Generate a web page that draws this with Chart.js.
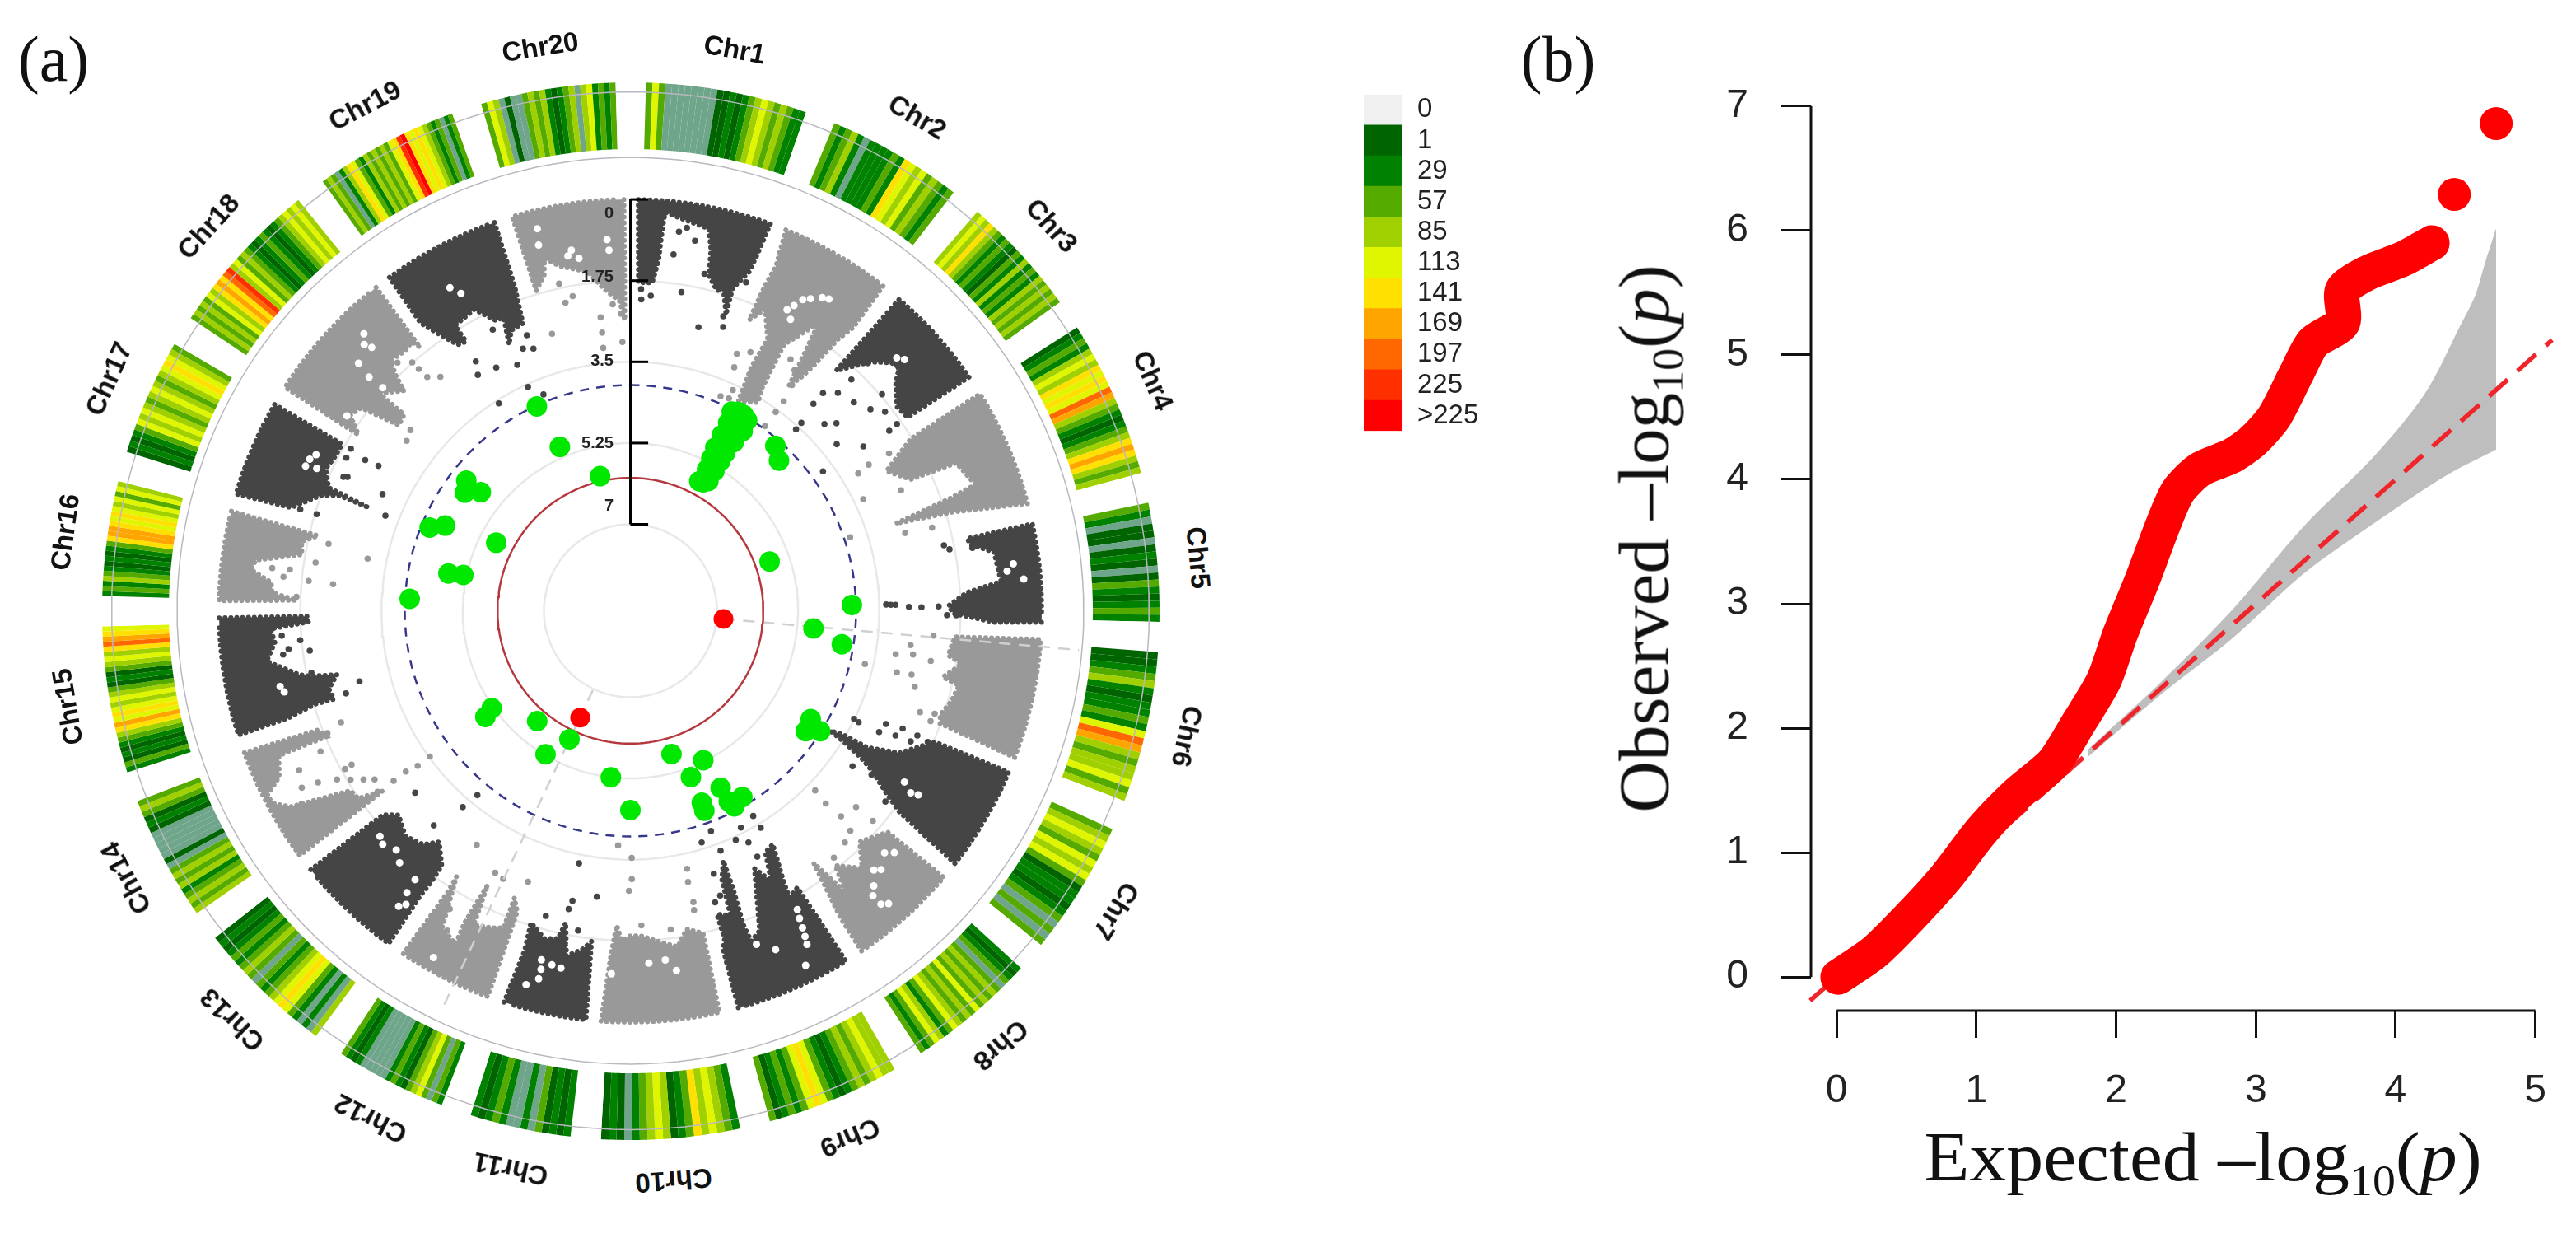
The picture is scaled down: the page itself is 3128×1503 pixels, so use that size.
<!DOCTYPE html>
<html>
<head>
<meta charset="utf-8">
<title>Circular Manhattan and QQ plot</title>
<script src="https://cdn.jsdelivr.net/npm/chart.js@4"></script>
<style>
  html, body { margin: 0; background: #fff; }
  #page { position: relative; width: 3128px; height: 1503px; overflow: hidden; background: #fff; }
  canvas { position: absolute; }
  .txt { position: absolute; white-space: nowrap; line-height: 1; }
  .chr { font: bold 33px "Liberation Sans", sans-serif; color: #111; }
  .tick { font: bold 20px "Liberation Sans", sans-serif; color: #222; }
  .serif { font-family: "Liberation Serif", serif; color: #111; }
  .serif sub { font-size: 62%; line-height: 0; }
</style>
</head>
<body>
<div id="page">
  <canvas id="ring" width="1284" height="1284" style="left:123.5px;top:99.5px"></canvas>
  <canvas id="manhattan" width="1321" height="1321" style="left:105px;top:81px"></canvas>
  <canvas id="legend" width="190" height="468" style="left:1656px;top:85px"></canvas>
  <canvas id="qq" width="1178" height="1400" style="left:1950px;top:60px"></canvas>
</div>
<script>
// ---- data ----
const chrNames = ['Chr1','Chr2','Chr3','Chr4','Chr5','Chr6','Chr7','Chr8','Chr9','Chr10','Chr11','Chr12','Chr13','Chr14','Chr15','Chr16','Chr17','Chr18','Chr19','Chr20'];
const chrSpan = [21,18.3,16.6,20.6,16.3,19.9,18.1,17.6,18,18.5,14.4,15.6,18.6,17.1,19.4,15.9,16.1,20.7,19.2,18.1];

const legendLabels = ['0','1','29','57','85','113','141','169','197','225','>225'];
const legendBins = [0,1,29,57,85,113,141,169,197,225,226];
const legendColors = ['#f0f0f0','#006400','#008200','#55aa00','#a0d000','#e0f500','#ffe000','#ffa500','#ff6800','#ff3000','#ff0000'];

// SNP density bands, clockwise. 0.5 = mostly empty windows (the grey-green stretches)
const chr1Bands = [57,113,57,.5,.5,.5,.5,.5,.5,.5,.5,1,1,29,1,29,57,85,113,85,57,85,57,29,29];
const chr2Bands = [57,29,57,85,29,.5,29,29,29,29,57,29,141,113,85,113,57,85,57,29,57];
const chr3Bands = [85,113,85,141,85,57,29,57,29,1,57,29,85,29,57,29,85,57,85,57,85,57];
const chr4Bands = [1,29,57,29,85,113,85,141,113,141,113,197,169,85,57,29,1,29,57,85,141,169,141,85,57,85];
const chr5Bands = [57,29,.5,1,1,.5,1,29,1,.5,1,57,29,1,29,57,29];
const chr6Bands = [1,1,29,57,85,29,1,29,29,57,29,113,197,169,85,57,85,85,113,57,85];
const chr7Bands = [57,85,113,85,57,113,85,113,57,1,29,29,1,29,57,.5,57,.5,57];
const chr8Bands = [29,1,29,57,.5,57,85,57,85,57,113,57,85,57,85,113,57,29,85,113,57,29,57];
const chr9Bands = [85,85,113,85,57,85,57,29,1,29,57,113,141,113,57,29,57,29,1,57];
const chr10Bands = [29,57,85,113,85,141,57,29,1,85,113,85,57,29,.5,1,29,1];
const chr11Bands = [29,1,29,1,57,.5,29,.5,.5,29,57,29,1,29];
const chr12Bands = [29,57,.5,57,113,85,57,1,29,57,29,.5,.5,.5,.5,.5,29,1,29,57];
const chr13Bands = [85,.5,29,.5,29,57,113,141,113,85,57,29,57,.5,57,85,57,29,57,29,1,29,1];
const chr14Bands = [85,57,85,57,29,85,57,85,57,.5,1,.5,.5,.5,.5,.5,1,29,1,57,85,57];
const chr15Bands = [29,57,1,29,1,29,57,85,141,169,113,141,113,85,113,85,57,1,29,1,57,85,113,85,141,197,169,141,113];
const chr16Bands = [29,57,29,85,57,29,1,29,1,29,57,141,169,169,141,113,141,113,85,113,57,113,85];
const chr17Bands = [1,29,1,29,57,113,85,113,85,57,85,113,85,57,85,113,141,113,85,57];
const chr18Bands = [57,85,57,85,57,113,85,141,169,141,197,225,85,113,57,85,57,29,1,29,57,29,1,29,57,85,113,85,113,85];
const chr19Bands = [57,85,57,.5,29,85,141,113,57,29,85,57,85,57,85,57,113,141,225,226,141,113,141,113,85,57,29,57,.5,29,57];
const chr20Bands = [57,113,85,.5,1,.5,.5,57,85,57,85,29,1,29,57,85,.5,85,113,29,57,29,57];

// outline of the dense part of each chromosome: [angle in degrees, -log10(p)]
const chr1Mass = [[19.9,0],[19.6,.74],[19.3,1.13],[17.6,1.57],[17.9,2.16],[16.1,1.64],[15.1,1.72],[13.1,1.43],[12.6,.9],[11.6,.46],[8.3,.37],[5,.25],[4.8,.6],[4.6,1.3],[3.8,1.78],[1.4,1.79],[1.1,0]];
const chr2Mass = [[37.9,0],[38.2,1.1],[37.4,1.5],[36.8,2.28],[36.2,2.62],[35.2,2.95],[34.6,2.55],[33.2,1.45],[31.3,1.95],[30,2.24],[30.6,3.28],[31.5,3.6],[27.2,3.78],[26.4,2.98],[26.8,2.3],[24.1,1.75],[22.2,2.1],[22.5,1.27],[22.9,.8],[22.2,0]];
const chr3Mass = [[55.4,0],[55.1,1.58],[52.6,1.63],[49.6,1.36],[48,1.1],[46.5,1.1],[44.5,1.35],[43.8,1.45],[40.6,2.05],[40.8,0]];
const chr4Mass = [[74.9,0],[73,1.58],[71.8,2.84],[70.6,1.54],[69.9,.95],[65.6,1.15],[64.9,2.19],[61.4,2.58],[58.5,1.78],[58.2,0]];
const chr5Mass = [[91.6,0],[91.8,1.02],[90.5,1.9],[89.1,2.01],[86.9,1.6],[85.5,.85],[80.8,.93],[79,1.4],[77.9,1.44],[77.8,0]];
const chr6Mass = [[110.9,0],[110,1.76],[108.6,1.82],[105.8,1.68],[102.8,1.6],[102,1.98],[99.1,1.63],[98,1.95],[94.6,1.85],[94,0]];
const chr7Mass = [[127.9,0],[126.8,1.62],[125.5,2.09],[123.6,2.59],[122.5,2.97],[121.5,3.5],[121,3.84],[120.2,3.57],[120,2.97],[117.8,2.3],[114.3,1.86],[113.3,1.7],[113.1,0]];
const chr8Mass = [[145.8,0],[145.6,.85],[144,2.14],[142.6,1.21],[141.2,1.82],[138,1.4],[135.2,1.85],[130.7,1.55],[130.4,0]];
const chr9Mass = [[164.8,0],[164.7,1.31],[164,1.51],[164.1,2.06],[161.8,1.96],[161.2,2.75],[159.6,3.12],[159.7,2.51],[160.2,1.67],[159.9,1.28],[158,1.43],[156.4,2.04],[154.3,2.7],[152.5,2.3],[150.8,2.9],[148.6,2.97],[150.5,2.15],[151,1.79],[148.9,1.9],[148.4,0]];
const chr10Mass = [[184.1,0],[183.2,1.5],[182.5,2.08],[181.5,1.75],[180,1.86],[178,1.85],[175.3,1.72],[172,1.55],[170,1.9],[167.3,1.74],[167.5,0]];
const chr11Mass = [[197.9,0],[197.3,1.2],[197.7,1.81],[194.7,1.56],[192.5,1.63],[191.7,2],[190.5,1.3],[188.1,1.49],[186.7,1.69],[186.2,0]];
const chr12Mass = [[213.5,0],[213,1.62],[213.2,2.02],[210.7,.92],[207.7,.75],[208,1.25],[207.5,2.2],[206.5,1.3],[203.8,1.4],[201.8,1.5],[202,2.19],[200.6,1.94],[200.3,0]];
const chr13Mass = [[231,0],[230.5,1.95],[228.6,2.21],[225,2],[221.6,2.13],[219.6,2.4],[216.5,2.03],[216.3,1.61],[216.4,1.24],[216,0]];
const chr14Mass = [[249.8,0],[249.1,1.66],[247.5,1.77],[247.6,1.14],[247.6,.67],[244.7,.49],[243,.07],[241.5,.14],[240,.42],[237.3,1.69],[235.4,1.74],[234,2.27],[233.5,0]];
const chr15Mass = [[269,0],[269,1.9],[268,1.92],[267.1,1.1],[264.9,1.17],[262.1,.95],[259.1,1.59],[258.5,1.8],[257.7,2.39],[255.5,2.15],[253.4,2.2],[253.5,1.78],[252.6,1.14],[252.4,0]];
const chr16Mass = [[284,0],[283.5,1.94],[281.9,1.62],[279.7,1.68],[277.7,.72],[276.2,.63],[274.5,1.1],[272.9,1.13],[271.8,1.66],[271.4,0]];
const chr17Mass = [[300.1,0],[300,1.69],[297.3,1.68],[295,1.62],[292.2,1.84],[291.5,2.81],[291.6,2.12],[290.4,1.74],[286.9,1.22],[286.5,0]];
const chr18Mass = [[321.8,0],[321.4,1.6],[320.9,1.4],[319,1.45],[316.2,1.4],[315,1.73],[314.2,2.06],[310.9,1.71],[310.9,2.41],[308.7,2.47],[307,1.6],[305,1.5],[302.9,1.88],[302.9,0]];
const chr19Mass = [[340.7,0],[340.4,1.42],[339.5,2.25],[337,2.3],[335.5,2.56],[336.6,1.98],[335.1,1.97],[332.6,1.55],[328.4,1.65],[328.6,2.07],[327,2.03],[324.9,1.5],[323.9,1.19],[324.1,0]];
const chr20Mass = [[359.1,0],[358.9,2.6],[358,2.19],[355.2,1.89],[352.8,1.5],[348.5,1.29],[346.3,1.05],[345.6,1.39],[343.6,1.68],[343.3,0]];

// empty pockets inside the dense parts
const massHoles = [[29,1.2],[30,1.1],[31.5,.95],[32.5,.9],[27.5,1.55],[28.2,1.4],[28.8,1.7],[47.5,1.2],[46.5,.95],[47.5,.85],[85.4,.36],[84,.7],[83,.55],[123,1.66],[122,1.9],[122.6,1.5],[138.6,.45],[139.5,.55],[132.5,1.15],[133.6,1.3],[139.6,.8],[138.5,.95],[135.9,1.1],[136.8,1.2],[151.5,1.09],[151.2,1.3],[150.8,1.49],[152.1,.73],[151.8,.9],[156.8,.92],[159.3,1.18],[153.7,.34],[174.3,1.3],[177,1.26],[172.7,1.05],[183,1.03],[194.3,1.1],[194,.69],[194,.9],[191,1.02],[192.5,1.05],[195.6,.5],[190,1.57],[209.6,.27],[218.1,.77],[217.4,.9],[226.7,1.53],[228,1.6],[218.4,1.11],[218.7,1.44],[224.4,1.65],[222.5,1.5],[257.8,1.14],[256.8,1.2],[295.3,1.22],[294.4,1.44],[296.4,1.3],[294,1.2],[316.1,.58],[315.5,.91],[315,.75],[305.3,1.65],[304.5,1.45],[312.3,.94],[311.8,1.31],[312,1.68],[330.8,.89],[331.9,1.11],[346.3,.39],[345.9,.74],[350.7,.99],[351.7,1.19],[350,1.1],[356.6,1.08],[356.4,.85]];

// isolated SNPs on the dark chromosomes
const darkDots = [[1.9,1.93],[3.7,2.06],[2,2.15],[9.1,1.91],[17.5,2.21],[18.1,2.43],[13.5,2.58],[6.9,1.13],[7.3,.63],[8.4,.52],[9.9,.77],[12.4,1.43],[19.4,1.36],
  [41.5,2.91],[41.5,2.6],[43.6,2.38],[47,2.28],[50,2.11],[52,1.9],[43.7,1.97],[43.8,1.47],[49.3,1.71],[55.2,2.07],[55,1.85],[42.3,3.39],[42.4,3.57],[46.1,3.06],[47.7,2.86],[51.1,3.15],[54.8,2.72],[54.1,3.74],
  [88.6,3.35],[88.7,3.25],[88.7,3.15],[89.2,2.86],[89.3,2.59],[89.2,2.22],[78.2,1.96],[79.1,1.86],[79.6,1.37],[90.8,2.04],[90.8,1.84],
  [115.8,3.51],[116,3.39],[113.9,2.84],[116,2.9],[113.4,2.47],[115.2,2.55],[113.5,2.12],[115,2.2],[113.8,1.86],[113.8,1.63],[125,3.02],[124.2,2.58],[124.8,2.18],[126.8,2],
  [159.9,3.81],[162.9,3.64],[159.4,3.34],[155.3,3.43],[153,3.26],[149.1,3.71],[149,3.41],[153,3.62],[152.7,2.9],[162.4,2.92],[163.8,2.32],[162.5,2.43],
  [191.3,2.49],[191.7,2.3],[195.5,2.04],[189.3,1.88],[186.7,2.66],[191.5,3.31],
  [222.5,2.59],[229.8,2.79],[220.5,3.3],[219.7,3.7],
  [255.4,2.83],[253.8,2.48],[259,1.86],[262.9,1.9],[264.9,1.72],[263.6,1.45],[265.9,1.33],[262.8,1.32],
  [300.1,1.9],[298.3,1.91],[299.6,2.29],[299.9,2.6],[295,2.04],[295.3,2.12],[295.2,2.96],[291.2,3.2],[287.1,1.79],[287.1,1.42],
  [333.9,2.12],[339.4,2.52],[337.7,2.76],[339.7,2.84],[335.3,3.03],[328.2,2.54],[331.1,2.88],[327.1,2.81],[335.4,3.56],[338.1,3.84],[327.6,3.57]];

// isolated SNPs on the light chromosomes
const lightDots = [[22.5,2.87],[24.9,2.72],[23.1,3.16],[24.9,3.62],[22.8,3.85],[24.9,3.82],[32.5,2.44],[34.3,2.59],[35.6,2.88],[36.2,3.27],[36.2,3.56],[36.1,3.94],
  [74.2,2.71],[74.6,2.12],[58.7,2.34],[58.5,2.84],[58.9,3.13],[66,2.48],[64.4,3.3],[71.5,3.87],
  [94.7,2.31],[97,2.78],[98.8,2.7],[99.3,3.07],[99.5,2.3],[103,2.97],[102.8,2.65],[105,2.52],[102.8,3.68],[109.3,2.25],[108.7,1.94],[110.2,1.97],
  [134.2,3.31],[134.6,2.95],[131,2.42],[134.3,2.52],[130.9,1.95],[135,2.16],[137.2,2.06],[140.5,1.97],
  [167.6,3.17],[168,2.89],[167.8,2.44],[168,2.27],[172.8,1.94],[178,2.08],[179.7,3.54],[179.7,3.08],[180.3,2.83],[183,3.8],
  [207.3,2.51],[205.4,2.47],[200.7,2.62],[213.3,2.83],[211.2,1.35],[209.8,.92],
  [244.3,.94],[241.7,.82],[241.2,1.18],[240.1,1.57],[238.9,1.82],[241,1.83],[241.1,2],[237.7,2.06],[236.6,2.26],[234.3,2.58],[234.4,2.91],[233.9,3.19],[234,3.52],[245.6,1.53],[248,1.82],[248.9,2.18],[234.4,2.16],[239.6,.65],
  [275.1,2.43],[275.3,1.9],[272.4,1.66],[281.2,3.09],[278.7,2],[276.9,1.47],[282.5,2.2],[276.8,1.09],[275.6,1.35],
  [319,2.19],[320.9,2.37],[318.8,1.94],[318.7,1.74],[316.8,1.53],[314.1,2],[309.4,2.73],[307.2,2.81],
  [347.7,1.65],[349.6,1.97],[348.1,2.08],[344.2,2.66],[354.2,2.51],[354.2,2.84],[354.1,3.17],[358.3,3.07],[356.7,2.25],[358.2,2.46]];

// SNPs above the suggestive and the genome-wide line
const greenHits = [[28.5,3.99],[30,3.99],[29.3,4.35],[28.7,4.64],[28.6,4.98],[30,5.26],[29.5,5.68],[29.6,4.15],[29,4.5],[29,4.8],[29.7,5.1],[29.7,5.45],
  [31.5,4.05],[27,4.05],[32,4.3],[27.5,4.3],[31.5,4.6],[27.5,4.6],[31,4.9],[27.5,4.9],[31,5.1],[28,5.15],[31,5.35],[28.5,5.4],[31,5.6],[28,5.7],
  [41.3,4.13],[44.7,4.31],[70.5,5.68],[88.5,4.09],[95.5,4.9],[99,4.25],
  [121,4.33],[124.5,4.28],[122.4,4.02],[164,5.65],[154,5.28],[160,5.05],[153,4.58],[159.6,4.45],[159.7,4.27],[152,4.09],[149,4.18],[152.7,4.24],[180,4.57],
  [234.9,5.21],[233.8,4.99],[220.2,5.75],[205.4,5.8],[210.6,5.27],[186.7,5.25],
  [335.4,4.02],[336.7,5.02],[347.3,5.89],[308.4,4.35],[305.5,4.48],[308.4,4.75],[292.5,4.18],[294.7,4.47],[296.9,5.62],[281.6,4.86],[282.1,5.18],[273.1,4.1]];
const redHits = [[95,6.85],[205.2,6.32]];
const linkLines = [[95,6.85,-.84],[205.3,6.97,-.65]];
const gridValues = [1.75,3.5,5.25,7];
const suggestiveLine = 4;
const significantLine = 6;
const axisTicks = [0,1.75,3.5,5.25,7];
const axisTickLabels = ['0','1.75','3.5','5.25','7'];

// QQ plot
const qqTicksX = [0,1,2,3,4,5];
const qqTicksY = [0,1,2,3,4,5,6,7];
const qqObsX = [.01,.27,.53,.78,1.04,1.29,1.55,1.73,1.91,2.03,2.19,2.32,2.44,2.6,2.83,2.98,3.13,3.29,3.41,3.62,3.62,3.8,4.05,4.26];
const qqObsY = [0,.2,.49,.8,1.18,1.47,1.72,2.04,2.38,2.76,3.2,3.59,3.9,4.08,4.19,4.31,4.5,4.85,5.1,5.26,5.52,5.66,5.77,5.9];
const qqTopX = [4.42,4.72];
const qqTopY = [6.29,6.86];
const qqBandX = [1.8,2.32,2.83,3.34,3.85,4.21,4.46,4.57,4.64,4.72];
const qqBandUpper = [1.83,2.37,2.95,3.62,4.19,4.69,5.23,5.48,5.74,6.02];
const qqBandLowerX = [1.8,2.32,2.83,3.34,3.85,4.36,4.72];
const qqBandLower = [1.77,2.27,2.72,3.24,3.65,4.03,4.24];
const qqRef = [-.19,5.12];

// ---- layout ----
const page = document.getElementById('page');
const cx = 765.5, cy = 741.5;
const pxPerUnit = 57.43;     // one -log10(p) unit on the circular axis
const centerValue = 8.863;   // the value that would sit on the circle centre
const ringOuter = 642 / pxPerUnit, ringInner = 561 / pxPerUnit;
const gapDeg = 3.3;

const polar = (deg, value) => {
  const rad = centerValue - value, a = deg * Math.PI / 180;
  return { x: rad * Math.sin(a), y: rad * Math.cos(a) };
};
const circle = (value) => {
  const pts = [];
  for (let d = 0; d <= 360; d += 2) pts.push(polar(d, value));
  return pts;
};
const toPoints = (pairs) => pairs.map(p => polar(p[0], p[1]));

function addText(html, x, y, cls, extra) {
  const el = document.createElement('div');
  el.className = 'txt ' + cls;
  el.innerHTML = html;
  el.style.left = x + 'px';
  el.style.top = y + 'px';
  el.style.transform = extra;
  page.appendChild(el);
}

// ---- heat ring ----
const allBands = [chr1Bands,chr2Bands,chr3Bands,chr4Bands,chr5Bands,chr6Bands,chr7Bands,chr8Bands,chr9Bands,chr10Bands,chr11Bands,chr12Bands,chr13Bands,chr14Bands,chr15Bands,chr16Bands,chr17Bands,chr18Bands,chr19Bands,chr20Bands];
const binColor = (v) => v === .5 ? '#6fa58a' : legendColors[legendBins.lastIndexOf(legendBins.filter(b => b <= v).pop())];
const ringWidths = [gapDeg / 2], ringColors = ['#ffffff'];
allBands.forEach((bands, i) => {
  const w = (chrSpan[i] - gapDeg) / bands.length;
  bands.forEach(b => { ringWidths.push(w); ringColors.push(binColor(b)); });
  ringWidths.push(i === allBands.length - 1 ? gapDeg / 2 : gapDeg);
  ringColors.push('#ffffff');
});
new Chart(document.getElementById('ring'), {
  type: 'doughnut',
  data: { datasets: [{ data: ringWidths, backgroundColor: ringColors, borderWidth: 0 }] },
  options: {
    responsive: false, animation: false, cutout: (ringInner / ringOuter * 100) + '%',
    layout: { padding: 0 },
    plugins: { legend: { display: false }, tooltip: { enabled: false } }
  }
});

// ---- circular manhattan ----
const dark = '#454545', light = '#999999';
const allMass = [chr1Mass,chr2Mass,chr3Mass,chr4Mass,chr5Mass,chr6Mass,chr7Mass,chr8Mass,chr9Mass,chr10Mass,chr11Mass,chr12Mass,chr13Mass,chr14Mass,chr15Mass,chr16Mass,chr17Mass,chr18Mass,chr19Mass,chr20Mass];
const lineBase = { showLine: true, pointRadius: 0, fill: false, tension: 0, clip: false };
const manhattanSets = [];
const rawRing = (r) => { const pts = []; for (let d = 0; d <= 360; d += 2) pts.push(polar(d, centerValue - r)); return pts; };
[ringOuter, ringInner].forEach(r => manhattanSets.push({ ...lineBase, data: rawRing(r), borderColor: '#b8b8c0', borderWidth: 1.5, order: 20 }));
gridValues.forEach(v => manhattanSets.push({ ...lineBase, data: circle(v), borderColor: '#e8e8e8', borderWidth: 2.5, order: 19 }));
allMass.forEach((outline, i) => {
  const pts = toPoints(outline);
  const from = outline[outline.length - 1][0], to = outline[0][0];
  for (let d = from; d < to; d += 1) pts.push(polar(d, 0));
  const col = i % 2 === 0 ? dark : light;
  manhattanSets.push({ ...lineBase, data: pts, borderColor: col, backgroundColor: col, borderWidth: 6, borderDash: [.1, 7], borderCapStyle: 'round', fill: 'shape', order: 18 });
});
manhattanSets.push({ data: toPoints(massHoles), pointRadius: 4.5, pointBackgroundColor: '#fff', pointBorderWidth: 0, clip: false, order: 17 });
manhattanSets.push({ data: toPoints(darkDots), pointRadius: 3.8, pointBackgroundColor: dark, pointBorderWidth: 0, clip: false, order: 16 });
manhattanSets.push({ data: toPoints(lightDots), pointRadius: 3.8, pointBackgroundColor: light, pointBorderWidth: 0, clip: false, order: 16 });
linkLines.forEach(l => manhattanSets.push({ ...lineBase, data: [polar(l[0], l[1]), polar(l[0], l[2])], borderColor: '#d0d0d0', borderWidth: 2.5, borderDash: [14, 10], order: 15 }));
manhattanSets.push({ ...lineBase, data: circle(suggestiveLine), borderColor: '#37378a', borderWidth: 2.5, borderDash: [11, 9], order: 14 });
manhattanSets.push({ ...lineBase, data: circle(significantLine), borderColor: '#b5383f', borderWidth: 2.5, order: 14 });
manhattanSets.push({ data: toPoints(greenHits), pointRadius: 12.5, pointBackgroundColor: '#00e800', pointBorderWidth: 0, clip: false, order: 5 });
manhattanSets.push({ data: toPoints(redHits), pointRadius: 12, pointBackgroundColor: '#ff0000', pointBorderWidth: 0, clip: false, order: 4 });
manhattanSets.push({ ...lineBase, data: [polar(0, axisTicks[0]), polar(0, axisTicks[4])], borderColor: '#000', borderWidth: 3, order: 3 });
axisTicks.forEach(v => {
  const p = polar(0, v);
  manhattanSets.push({ ...lineBase, data: [p, { x: p.x + 22 / pxPerUnit, y: p.y }], borderColor: '#000', borderWidth: 3, order: 3 });
});
const hiddenAxis = { type: 'linear', display: false, min: -11.5, max: 11.5 };
new Chart(document.getElementById('manhattan'), {
  type: 'scatter',
  data: { datasets: manhattanSets },
  options: {
    responsive: false, animation: false, layout: { padding: 0 },
    scales: { x: hiddenAxis, y: hiddenAxis },
    plugins: { legend: { display: false }, tooltip: { enabled: false } }
  }
});

// chromosome names and circular axis labels
let startDeg = 0;
chrNames.forEach((name, i) => {
  const mid = startDeg + chrSpan[i] / 2, a = mid * Math.PI / 180;
  addText(name, cx + 693 * Math.sin(a), cy - 693 * Math.cos(a), 'chr', `translate(-50%,-50%) rotate(${mid}deg)`);
  startDeg += chrSpan[i];
});
const axisLabelShift = [26, 2, 3, 3, -22];
axisTicks.forEach((v, i) => {
  addText(axisTickLabels[i], 745, cy - (centerValue - v) * pxPerUnit + axisLabelShift[i], 'tick', 'translate(-100%,-50%)');
});

// ---- colour key ----
new Chart(document.getElementById('legend'), {
  type: 'bar',
  data: {
    labels: legendLabels,
    datasets: [{ data: legendLabels.map(() => 1), backgroundColor: legendColors, borderWidth: 0, barPercentage: 1, categoryPercentage: 1 }]
  },
  options: {
    indexAxis: 'y', responsive: false, animation: false, layout: { padding: 0 },
    scales: {
      x: { display: false, min: 0, max: 1 },
      y: {
        position: 'right',
        grid: { display: false }, border: { display: false },
        ticks: { color: '#222', padding: 10, autoSkip: false, font: { family: 'Liberation Sans', size: 33 } },
        afterFit: (s) => { s.width = 143; }
      }
    },
    plugins: { legend: { display: false }, tooltip: { enabled: false } }
  }
});

// ---- QQ plot ----
const qqMinX = -0.184, qqMinY = -0.27;
const xy = (xs, ys) => xs.map((x, i) => ({ x, y: ys[i] }));
new Chart(document.getElementById('qq'), {
  type: 'scatter',
  data: {
    datasets: [
      { ...lineBase, data: xy(qqBandX, qqBandUpper), borderWidth: 0, backgroundColor: '#bebebe', fill: '+1', tension: .3, order: 9 },
      { ...lineBase, data: xy(qqBandLowerX, qqBandLower), borderWidth: 0, tension: .3, order: 9 },
      { ...lineBase, data: [{ x: qqRef[0], y: qqRef[0] }, { x: qqRef[1], y: qqRef[1] }], borderColor: '#f0252b', borderWidth: 5.5, borderDash: [30, 16], order: 8 },
      { ...lineBase, data: xy(qqObsX, qqObsY), borderColor: '#ff0000', borderWidth: 43, borderCapStyle: 'round', borderJoinStyle: 'round', tension: .25, order: 2 },
      { data: xy(qqTopX, qqTopY), pointRadius: 20, pointBackgroundColor: '#ff0000', pointBorderWidth: 0, clip: false, order: 2 },
      { ...lineBase, data: [{ x: qqMinX, y: 0 }, { x: qqMinX, y: 7 }], borderColor: '#111', borderWidth: 3, order: 1 },
      { ...lineBase, data: [{ x: 0, y: qqMinY }, { x: 5, y: qqMinY }], borderColor: '#111', borderWidth: 3, order: 1 }
    ]
  },
  options: {
    responsive: false, animation: false,
    layout: { padding: { top: 64.6, right: 38, left: 0, bottom: 0 } },
    scales: {
      x: {
        type: 'linear', min: qqMinX, max: 5,
        grid: { drawOnChartArea: false, tickLength: 33, tickColor: '#111', tickWidth: 3 },
        border: { display: false },
        afterBuildTicks: (s) => { s.ticks = qqTicksX.map(value => ({ value })); },
        ticks: { color: '#222', padding: 36, maxRotation: 0, font: { family: 'Liberation Sans', size: 48 } },
        afterFit: (s) => { s.height = 233; }
      },
      y: {
        type: 'linear', min: qqMinY, max: 7,
        grid: { drawOnChartArea: false, tickLength: 36, tickColor: '#111', tickWidth: 3 },
        border: { display: false },
        afterBuildTicks: (s) => { s.ticks = qqTicksY.map(value => ({ value })); },
        ticks: { color: '#222', padding: 40, font: { family: 'Liberation Sans', size: 48 } },
        afterFit: (s) => { s.width = 249; }
      }
    },
    plugins: { legend: { display: false }, tooltip: { enabled: false } }
  }
});

// ---- titles ----
addText('(a)', 65, 72, 'serif', 'translate(-50%,-50%)');
addText('(b)', 1892, 72, 'serif', 'translate(-50%,-50%)');
addText('Observed –log<sub>10</sub>(<i>p</i>)', 1996, 654, 'serif', 'translate(-50%,-50%) rotate(-90deg)');
addText('Expected –log<sub>10</sub>(<i>p</i>)', 2675, 1405, 'serif', 'translate(-50%,-50%) scaleX(1.07)');
const serifSizes = [78, 78, 87, 84];
Array.from(document.querySelectorAll('.serif')).forEach((el, i) => { el.style.fontSize = serifSizes[i] + 'px'; });
</script>
</body>
</html>
